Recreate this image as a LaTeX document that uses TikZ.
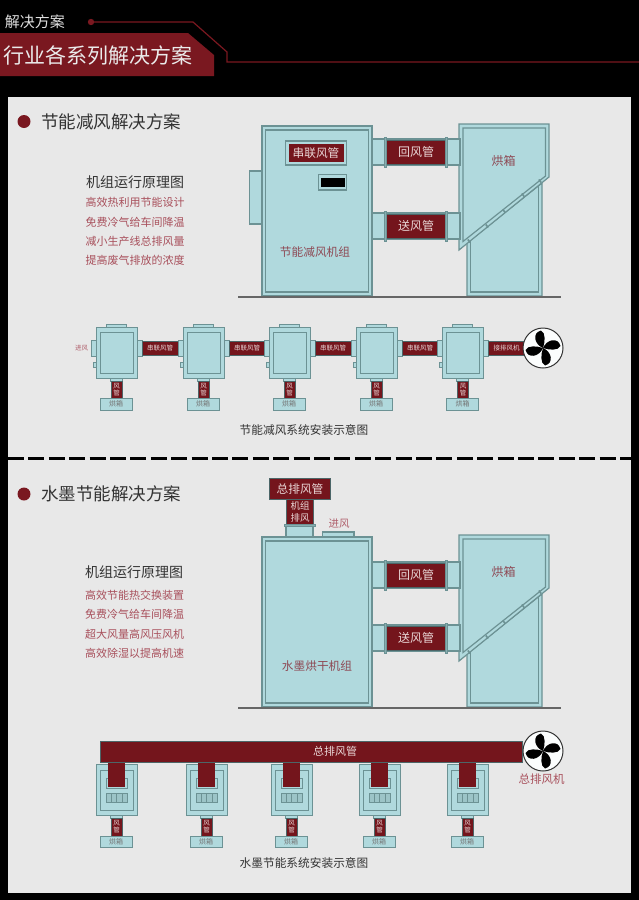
\documentclass[tikz,border=0pt]{standalone}
\usepackage{fontspec}
\setmainfont{Noto Sans CJK SC}
\definecolor{pan}{HTML}{E8E8E8}
\definecolor{teal}{HTML}{B0D9DD}
\definecolor{edge}{HTML}{6C9294}
\definecolor{dred}{HTML}{74151C}
\definecolor{hred}{HTML}{7A1820}
\definecolor{lbl}{HTML}{8E4A55}
\definecolor{pinkt}{HTML}{B0606C}
\definecolor{lred}{HTML}{A8505C}
\definecolor{dtxt}{HTML}{333333}
\definecolor{wtxt}{HTML}{EAD8D8}
\tikzset{
  tb/.style={fill=teal,draw=edge,line width=1.2pt},
  tl/.style={draw=edge,line width=1.2pt},
  rb/.style={fill=dred,draw=edge!70!black,line width=.6pt},
  txt/.style={inner sep=0pt,outer sep=0pt,anchor=center},
  fs/.style={font=\fontsize{#1}{#1}\selectfont},
  rt/.style={txt,text=wtxt},
}
\newcommand{\fanblades}[3]{%
  \node[circle,draw=black!80,fill=white!95!teal,line width=1pt,minimum size=40pt,inner sep=0pt] (#3) at (#1,#2) {};
  \foreach \ang in {0,90,180,270}{
    \fill[black,shift={(#1,#2)},rotate=-\ang]
      (0,0) .. controls (-9,-4) and (-11,-15) .. (-2,-17.5) .. controls (3,-15) and (2,-6) .. (0,0);
  }}
\newcommand{\ovenbox}[2]{%
  \begin{scope}[shift={(0,#1)}]
    \draw[tb] (467,243) -- (542,183) -- (542,296) -- (467,296) -- cycle;
    \draw[tl] (470.5,241) -- (470.5,292) -- (538.5,292) -- (538.5,186);
    \draw[tb] (459,124) -- (549,124) -- (549,177) -- (459,250) -- cycle;
    \draw[tl] (463,128) -- (545.5,128) -- (545.5,176) -- (463,241.5) -- cycle;
    \foreach \rx/\ry in {469/241,487/226,504/211,523/195,540/181}{
      \draw[edge,line width=1.6pt] (\rx-1.2,\ry-1.5) -- (\rx+1.2,\ry+1.5);
    }
    \node[txt,fs=12,text=lbl] (#2) at (503.5,161) {烘箱};
  \end{scope}}
\newcommand{\ductrun}[3]{%
  \begin{scope}[shift={(0,#1)}]
    \draw[tb] (372,-13) rectangle (460,13);
    \draw[rb] (386.5,-12) rectangle (445.5,12);
    \draw[tb,fill=edge!60!teal,line width=1pt] (384.2,-15) rectangle (386.8,15);
    \draw[tb,fill=edge!60!teal,line width=1pt] (445.2,-15) rectangle (447.8,15);
    \node[rt,fs=12] (#3) at (416,0) {#2};
  \end{scope}}
\begin{document}
\begin{tikzpicture}[x=1pt,y=-1pt]
\useasboundingbox (0,0) rectangle (639,900);
\fill[black] (0,0) rectangle (639,900);

% header
\fill[hred] (0,33) -- (188,33) -- (214,55) -- (214,76) -- (0,76) -- cycle;
\draw[hred,line width=1.2pt] (91,22) -- (193,22) -- (227,52) -- (227,62) -- (639,62);
\fill[hred] (91,22) circle (3.2);
\node[txt,fs=15,text=white!88!black,anchor=west] (hsub) at (5,22) {解决方案};
\node[txt,fs=21,text=white!92!black,anchor=west] (htitle) at (3.5,55) {行业各系列解决方案};

% panel
\fill[pan] (8,97) rectangle (630.5,893);
\draw[black,line width=2.6pt,dash pattern=on 16pt off 4.4pt] (8,458.5) -- (630.5,458.5);

% headings
\fill[hred] (24,121.5) circle (6.5);
\fill[hred] (24,494) circle (6.5);
\node[txt,fs=17.5,text=dtxt,anchor=west] (h1) at (41.5,121.5) {节能减风解决方案};
\node[txt,fs=17.5,text=dtxt,anchor=west] (h2) at (41.5,494) {水墨节能解决方案};

% lists
\node[txt,fs=14,text=dtxt,anchor=west] (l1) at (86,182) {机组运行原理图};
\node[txt,fs=11,text=lred,anchor=west] (l11) at (85.5,202.5) {高效热利用节能设计};
\node[txt,fs=11,text=lred,anchor=west] (l12) at (85.5,222) {免费冷气给车间降温};
\node[txt,fs=11,text=lred,anchor=west] (l13) at (85.5,241) {减小生产线总排风量};
\node[txt,fs=11,text=lred,anchor=west] (l14) at (85.5,260) {提高废气排放的浓度};
\node[txt,fs=14,text=dtxt,anchor=west] (l2) at (85,572.5) {机组运行原理图};
\node[txt,fs=11,text=lred,anchor=west] (l21) at (85,595) {高效节能热交换装置};
\node[txt,fs=11,text=lred,anchor=west] (l22) at (85,614.5) {免费冷气给车间降温};
\node[txt,fs=11,text=lred,anchor=west] (l23) at (85,634) {超大风量高风压风机};
\node[txt,fs=11,text=lred,anchor=west] (l24) at (85,653) {高效除湿以提高机速};

% top large machine
\draw[tb] (249.5,171) rectangle (262,224);
\ovenbox{0}{oven1}
\ductrun{152}{回风管}{d1}
\ductrun{226}{送风管}{d2}
\draw[tb] (262,126) rectangle (372,296);
\draw[tl] (265.5,130) rectangle (368.5,292);
\draw[tb] (285.5,141) rectangle (346.5,165);
\fill[dred] (288.5,144) rectangle (344,162);
\node[rt,fs=11.7] (m1) at (316,153) {串联风管};
\draw[tb] (318.5,174.5) rectangle (346.5,190);
\fill[black] (320.5,177.5) rectangle (344.5,187);
\node[txt,fs=11.7,text=lbl] (m1l) at (315,252) {节能减风机组};
\draw[black!60,line width=2pt] (238,297) -- (561,297);

% bottom large machine
\ovenbox{411}{oven2}
\ductrun{575}{回风管}{d3}
\ductrun{638}{送风管}{d4}
\draw[tb] (322.5,532) rectangle (354,537);
\draw[tb] (286,525) rectangle (313,537);
\draw[rb] (286,499) rectangle (313,524.5);
\draw[tb,fill=edge!60!teal,line width=.8pt] (284,524) rectangle (315,526);
\draw[rb] (269.5,478) rectangle (330,499);
\node[rt,fs=11.7] (m2a) at (300,489) {总排风管};
\node[rt,fs=9.5] (m2b) at (300,506) {机组};
\node[rt,fs=9.5] (m2c) at (300,518) {排风};
\node[txt,fs=10.5,text=pinkt] (m2d) at (339,523.5) {进风};
\draw[tb] (262,537) rectangle (372,707);
\draw[tl] (265.5,541) rectangle (368.5,703);
\node[txt,fs=11.7,text=lbl] (m2l) at (317,666) {水墨烘干机组};
\draw[black!60,line width=2pt] (238,708) -- (561,708);

% top row
\node[txt,fs=6.5,text=pinkt] (jf) at (81.5,348) {进风};
\foreach \ux/\ulab/\un in {96/串联风管/1,183/串联风管/2,269/串联风管/3,356/串联风管/4,442.5/接排风机/5}{
  \begin{scope}[shift={(\ux,0)}]
    \draw[tb,line width=.8pt] (10,324) rectangle (30,327);
    \draw[tb,line width=.8pt] (-5,340) rectangle (0,356);
    \draw[tb,line width=.8pt] (-3,362) rectangle (0,367);
    \draw[tb,line width=.8pt] (41,340) rectangle (46,356);
    \draw[tb,line width=.8pt] (14,378) rectangle (26,381);
    \draw[tb,line width=1pt] (0,327) rectangle (41,378);
    \draw[tl,line width=1pt] (4,332) rectangle (37,373);
    \draw[rb] (46,341) rectangle (82,355);
    \node[rt,fs=6.5] (sa\un) at (64,348) {\ulab};
    \draw[rb] (15,381) rectangle (26,398);
    \node[rt,fs=6.5] (sb\un) at (20.5,386) {风};
    \node[rt,fs=6.5] (sc\un) at (20.5,393) {管};
    \draw[tb,line width=1pt] (4,398) rectangle (36,410);
    \node[txt,fs=7,text=black!55] (sd\un) at (20,404) {烘箱};
  \end{scope}
}
\fanblades{543}{348}{fan1}
\node[txt,fs=11.7,text=dtxt] (cap1) at (304,430) {节能减风系统安装示意图};

% bottom row
\foreach \ux/\un in {96/1,186/2,271/3,359/4,447/5}{
  \begin{scope}[shift={(\ux,0)}]
    \draw[tb,line width=1pt] (0,764) rectangle (41,815);
    \draw[tl,line width=1pt] (4,770) rectangle (37,810);
    \draw[tl,line width=1pt] (10,778) rectangle (31,788);
    \draw[tl,fill=teal!70!edge,line width=.8pt] (10,793) rectangle (31,802);
    \foreach \gx in {15.2,20.5,25.8}{\draw[edge,line width=.6pt] (\gx,793) -- (\gx,802);}
    \fill[dred] (12,760) rectangle (29,787);
    \draw[tb,line width=.8pt] (14,815) rectangle (26,818);
    \draw[rb] (15,818) rectangle (26,836);
    \node[rt,fs=6.5] (ta\un) at (20.5,823.5) {风};
    \node[rt,fs=6.5] (tb\un) at (20.5,830.5) {管};
    \draw[tb,line width=1pt] (4,836) rectangle (36,847);
    \node[txt,fs=7,text=black!55] (tc\un) at (20,841.5) {烘箱};
  \end{scope}
}
\draw[rb] (100.5,741) rectangle (522.5,762);
\node[rt,fs=11] (bar) at (335,751) {总排风管};
\fanblades{543}{751}{fan2}
\node[txt,fs=11.5,text=lred] (fanl) at (541.5,779.5) {总排风机};
\node[txt,fs=11.7,text=dtxt] (cap2) at (304,863) {水墨节能系统安装示意图};
\end{tikzpicture}
\end{document}
